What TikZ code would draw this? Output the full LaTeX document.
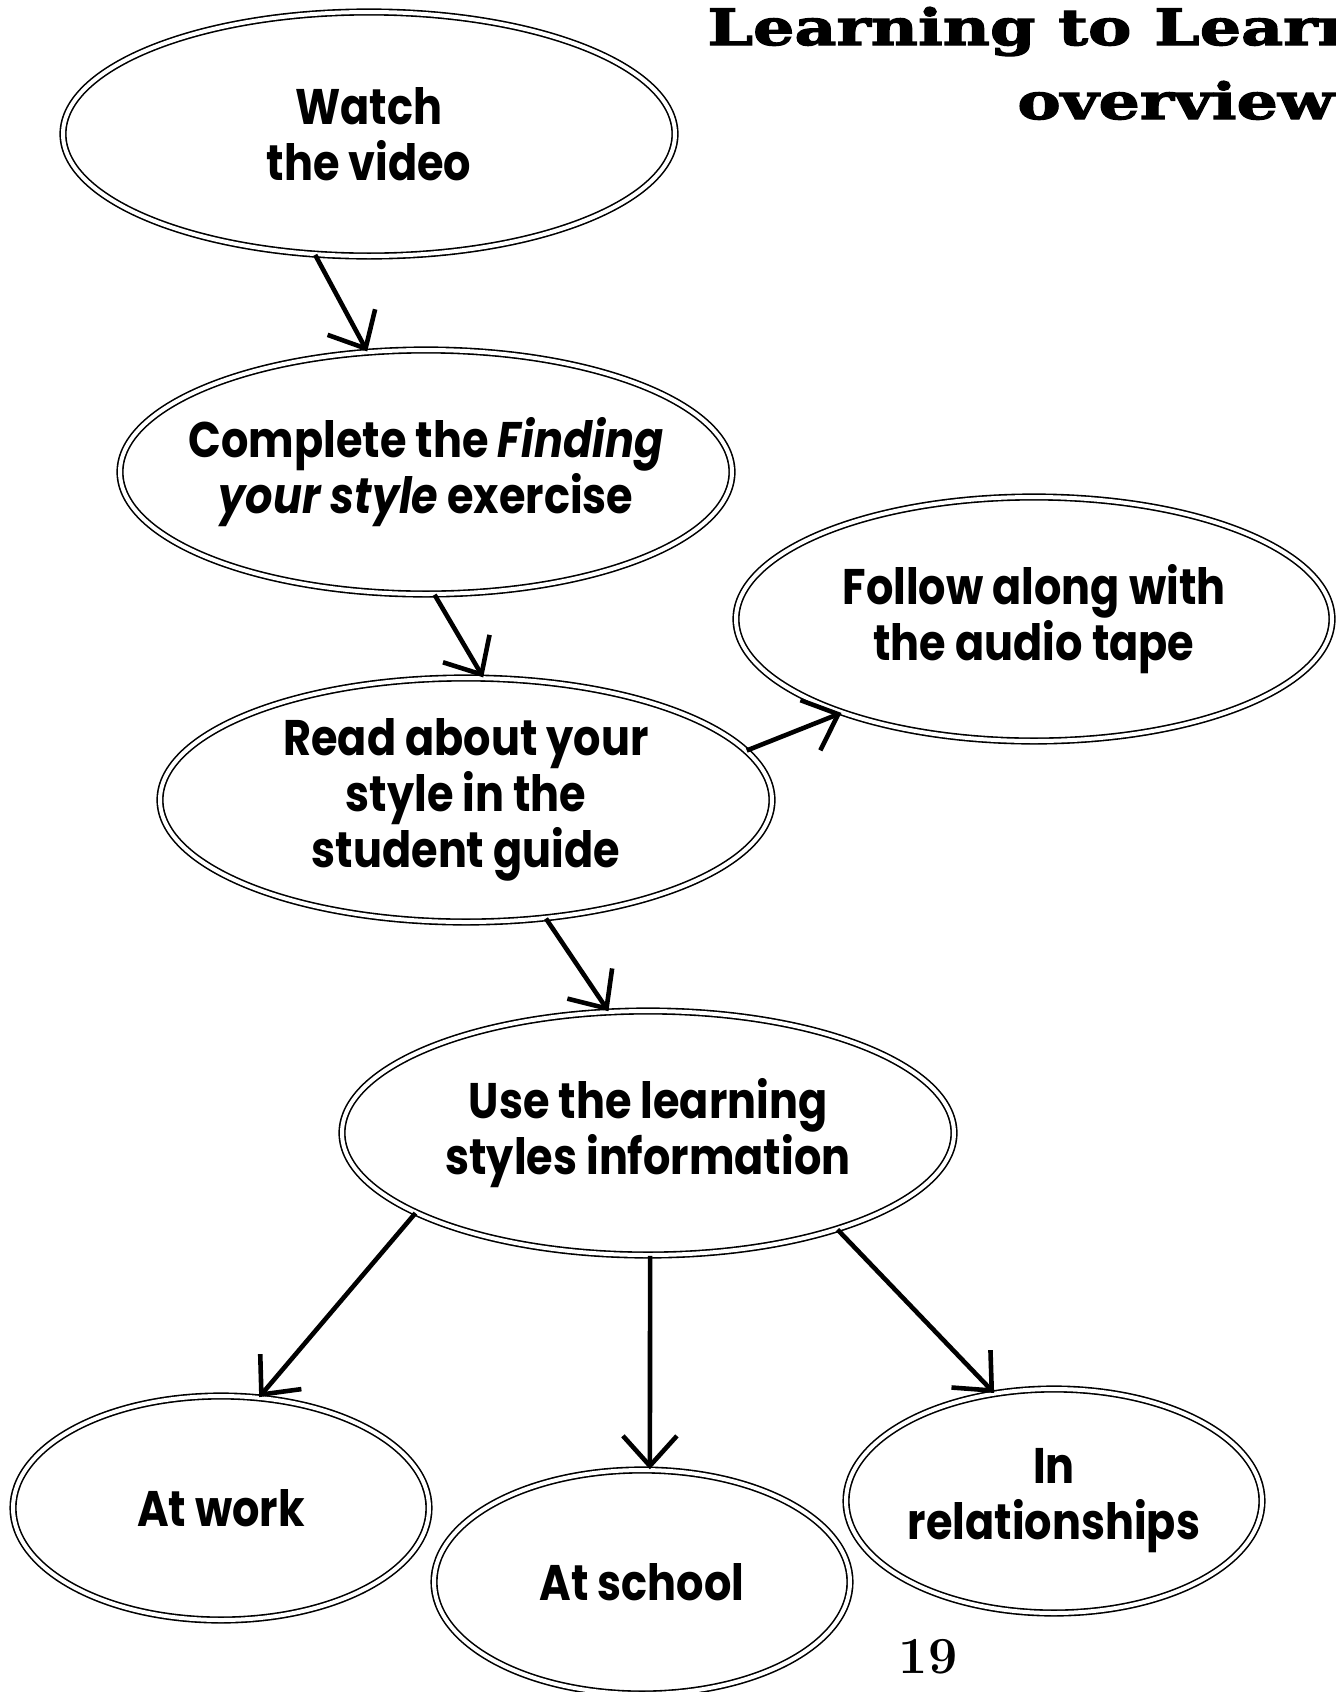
\documentclass[tikz,border=0pt]{standalone}
\usepackage{fontspec}
\setsansfont{Poppins}[FakeStretch=0.86]
\newfontfamily\headfont{DejaVu Serif}[FakeStretch=1.3, FakeBold=2.5]
\usetikzlibrary{shapes.geometric,arrows.meta}

\tikzset{
    bubble/.style={draw, ellipse, double, double distance=2pt, line width=0.8pt,
        minimum width=306pt, minimum height=122pt, inner xsep=-12pt, inner ysep=-6pt, align=center,
        font=\sffamily\bfseries\fontsize{25}{28}\selectfont},
    smallbubble/.style={bubble, minimum width=208pt, minimum height=112pt},
    flow/.style={line width=2.3pt, -{Straight Barb[length=15pt, width=27pt, line width=2.3pt]}},
    title/.style={anchor=base west, inner sep=0pt, font=\headfont\bfseries\fontsize{25}{30}\selectfont}
}

\begin{document}
\begin{tikzpicture}[x=0.5pt, y=-0.5pt]
                \useasboundingbox (0,0) rectangle (1336,1692);

                \node[title] (T1) at (707,45) {Learning to Learn};
                \node[title] (T2) at (1017,119) {overview};

                \node[bubble] (A) at (369,134) {Watch\\the video};
                \node[bubble] (B) at (426,472) {Complete the \textit{Finding}\\\textit{your style} exercise};
                \node[bubble, minimum width=298pt] (F) at (1034,619) {Follow along with\\the audio tape};
                \node[bubble] (D) at (466,800) {Read about your\\style in the\\student guide};
                \node[bubble] (U) at (648,1133) {Use the learning\\styles information};
                \node[smallbubble] (K) at (221,1508) {At work};
                \node[smallbubble] (S) at (642,1582) {At school};
                \node[smallbubble] (H) at (1054,1501) {In\\relationships};

                \node[font=\bfseries\fontsize{26}{30}\selectfont] (P) at (928,1657) {19};

                \draw[flow] (A.-114) -- (B.116);
                \draw[flow] (B.-86) -- (D.82);
                \draw[flow] (D.10) -- (F.-154);
                \draw[flow] (D.-56) -- (U.108);
                \draw[flow] (U.-161) -- (K.71);
                \draw[flow] (U.-89) -- (S.86);
                \draw[flow] (U.-27) -- (H.119);
            \end{tikzpicture}
\end{document}
